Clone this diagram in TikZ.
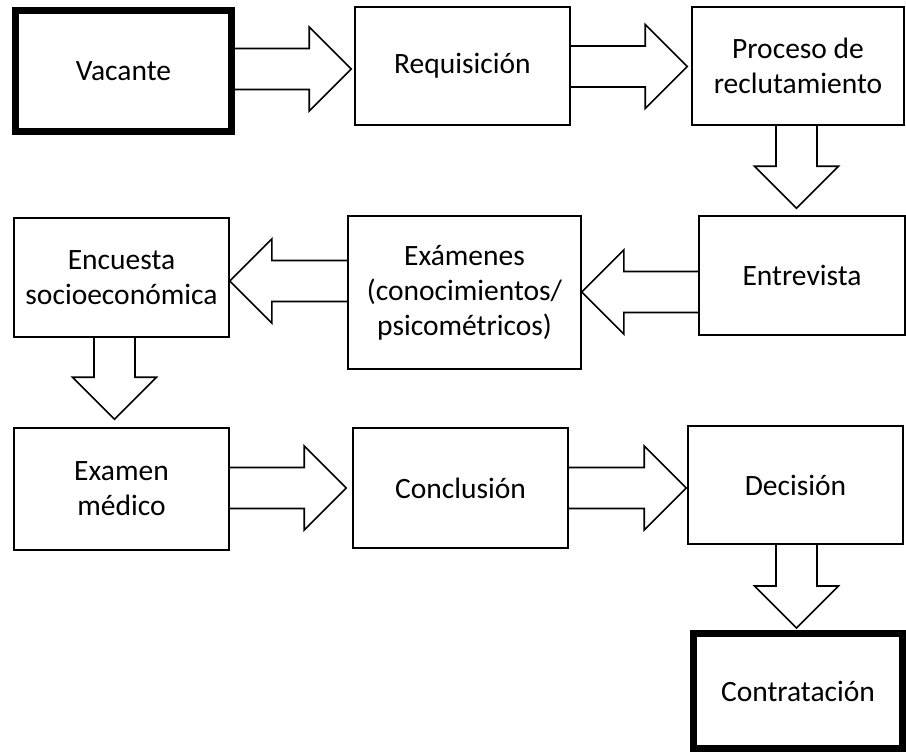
\documentclass[tikz,border=0pt]{standalone}
\usepackage{fontspec}
\setmainfont{Carlito}
\usetikzlibrary{calc}
\tikzset{
  box/.style={draw, line width=1.6pt, inner sep=0pt, align=center, font=\fontsize{29.5}{35}\selectfont},
  thickbox/.style={box, line width=7pt},
  blk/.style={draw, line width=1.6pt, line join=miter},
}
% horizontal block arrow: from node anchor, to node anchor, y, head offset, tip shift
\newcommand{\harrow}[5]{%
  \coordinate (hs) at (#1 |- 0,#3);
  \coordinate (ht) at ($(#2 |- 0,#3)+(#5,0)$);
  \draw[blk] ($(hs)+(0,-20.5)$) -- ($(ht)+(#4,-20.5)$) -- ($(ht)+(#4,-42)$) -- (ht)
     -- ($(ht)+(#4,42)$) -- ($(ht)+(#4,20.5)$) -- ($(hs)+(0,20.5)$);}
% vertical block arrow (downwards): from node anchor, to node anchor, x, tip shift
\newcommand{\varrow}[4]{%
  \coordinate (vs) at (#1 -| #3,0);
  \coordinate (vt) at ($(#2 -| #3,0)+(0,#4)$);
  \draw[blk] ($(vs)+(-20.5,0)$) -- ($(vt)+(-20.5,-42)$) -- ($(vt)+(-42,-42)$) -- (vt)
     -- ($(vt)+(42,-42)$) -- ($(vt)+(20.5,-42)$) -- ($(vs)+(20.5,0)$);}
\begin{document}
\begin{tikzpicture}[x=1pt,y=-1pt]
\useasboundingbox (0,0) rectangle (906,753);
\fill[white] (0,0) rectangle (906,753);
% nodes
\node[thickbox, minimum width=216pt, minimum height=121pt] (vac) at (123.5,71) {Vacante};
\node[box, minimum width=215pt, minimum height=118pt] (req) at (462.5,66) {Requisición};
\node[box, minimum width=212pt, minimum height=118pt] (proc) at (798,66) {Proceso de\\reclutamiento};
\node[box, minimum width=206pt, minimum height=119pt] (ent) at (802,275.5) {Entrevista};
\node[box, minimum width=233pt, minimum height=153pt] (exa) at (464.5,292.5) {Exámenes\\(conocimientos/\\psicométricos)};
\node[box, minimum width=215pt, minimum height=119pt] (enc) at (121.5,277.5) {Encuesta\\socioeconómica};
\node[box, minimum width=215pt, minimum height=122pt] (med) at (121.5,489) {Examen\\médico};
\node[box, minimum width=215pt, minimum height=120pt] (con) at (460.5,488) {Conclusión};
\node[box, minimum width=215pt, minimum height=118pt] (dec) at (795.5,485) {Decisión};
\node[thickbox, minimum width=209pt, minimum height=115pt] (cont) at (798,691) {Contratación};
% connectors
\harrow{vac.east}{req.west}{69}{-42}{-3}
\harrow{req.east}{proc.west}{66.5}{-42}{-4}
\varrow{proc.south}{ent.north}{796.5}{-7}
\harrow{ent.west}{exa.east}{292}{42}{0}
\harrow{exa.west}{enc.east}{281}{42}{0}
\varrow{enc.south}{med.north}{114.5}{-8}
\harrow{med.east}{con.west}{488}{-42}{-6}
\harrow{con.east}{dec.west}{488}{-42}{-1}
\varrow{dec.south}{cont.north}{796.5}{-2}
\end{tikzpicture}
\end{document}
